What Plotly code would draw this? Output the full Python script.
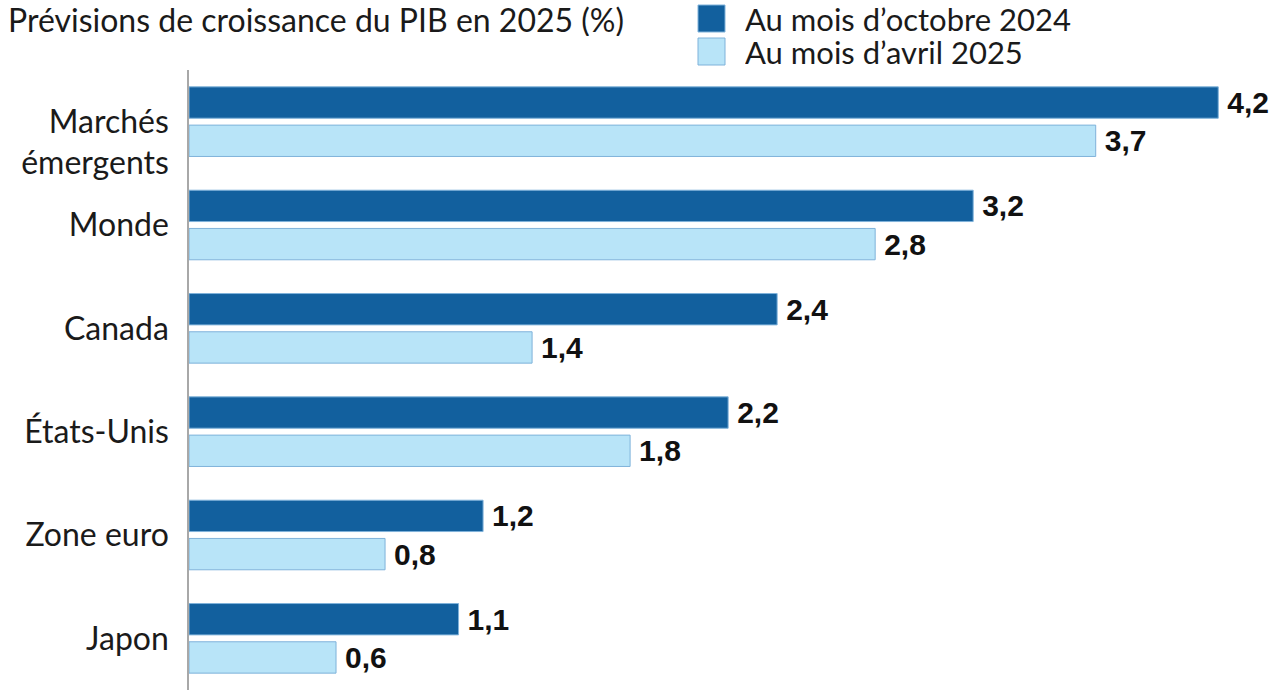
import plotly.graph_objects as go

categories = ["<br>Marchés<br>émergents", "Monde", "Canada", "États-Unis", "Zone euro", "Japon"]
oct_2024 = [4.2, 3.2, 2.4, 2.2, 1.2, 1.1]
avr_2025 = [3.7, 2.8, 1.4, 1.8, 0.8, 0.6]
series_names = ["Au mois d’octobre 2024", "Au mois d’avril 2025"]
title_text = "Prévisions de croissance du PIB en 2025 (%)"

DARK = "#12609E"
LIGHT = "#B8E4F8"
EDGE = "#7FB2DA"
TXT_FONT = "Lato"
LBL_FONT = "Liberation Sans"
FS = 32

W, H = 1280, 700
ml, mt = 189, 70
mb = H - 690
mr = 25

fig = go.Figure()
for vals, name, col in [(oct_2024, series_names[0], DARK), (avr_2025, series_names[1], LIGHT)]:
    fig.add_trace(go.Bar(
        y=categories, x=vals, name=name, orientation="h",
        marker=dict(color=col, line=dict(color=EDGE, width=1)),
        texttemplate="\u2009%{x:.1f}", textposition="outside", cliponaxis=False,
        constraintext="none",
        textfont=dict(family=LBL_FONT, size=30, color="#111111", weight="bold"),
        showlegend=False,
    ))

fig.update_layout(
    width=W, height=H,
    margin=dict(l=ml, r=mr, t=mt, b=mb, autoexpand=False),
    paper_bgcolor="white", plot_bgcolor="white",
    separators=", ",
    barmode="group", bargap=0.26, bargroupgap=0.18,
    font=dict(family=TXT_FONT, size=FS, color="#1a1a1a"),
    xaxis=dict(range=[0, 4.35], showgrid=False, zeroline=False, showticklabels=False,
               showline=False, automargin=False),
    yaxis=dict(autorange="reversed", showgrid=False, zeroline=False, showline=True,
               linecolor="#A8A8A8", linewidth=1.5, ticks="outside", ticklen=12,
               tickcolor="rgba(0,0,0,0)", automargin=False,
               tickfont=dict(family=TXT_FONT, size=FS, color="#1a1a1a")),
)

pw = W - ml - mr
ph = H - mt - mb
def px_x(x):
    return (x - ml) / pw
def px_y(y):
    return 1 - (y - mt) / ph

# Title
fig.add_annotation(text=title_text, xref="paper", yref="paper",
                   x=px_x(6), y=px_y(0), xanchor="left", yanchor="top", showarrow=False,
                   height=34, valign="middle",
                   font=dict(family=TXT_FONT, size=FS, color="#1a1a1a"))

# Legend (manual, large swatches)
for i, (name, col) in enumerate(zip(series_names, [DARK, LIGHT])):
    top = 5 + i * 33
    fig.add_shape(type="rect", xref="paper", yref="paper",
                  x0=px_x(698), x1=px_x(725), y0=px_y(top + 27), y1=px_y(top),
                  fillcolor=col, line=dict(color=EDGE, width=1))
    fig.add_annotation(text=name, xref="paper", yref="paper",
                       x=px_x(743), y=px_y(top + 13.5), xanchor="left", yanchor="middle",
                       height=31, valign="middle",
                       showarrow=False, font=dict(family=TXT_FONT, size=31, color="#1a1a1a"))

fig.write_html("out.html", config={"displayModeBar": False},
               post_script="document.body.style.margin='0';")
